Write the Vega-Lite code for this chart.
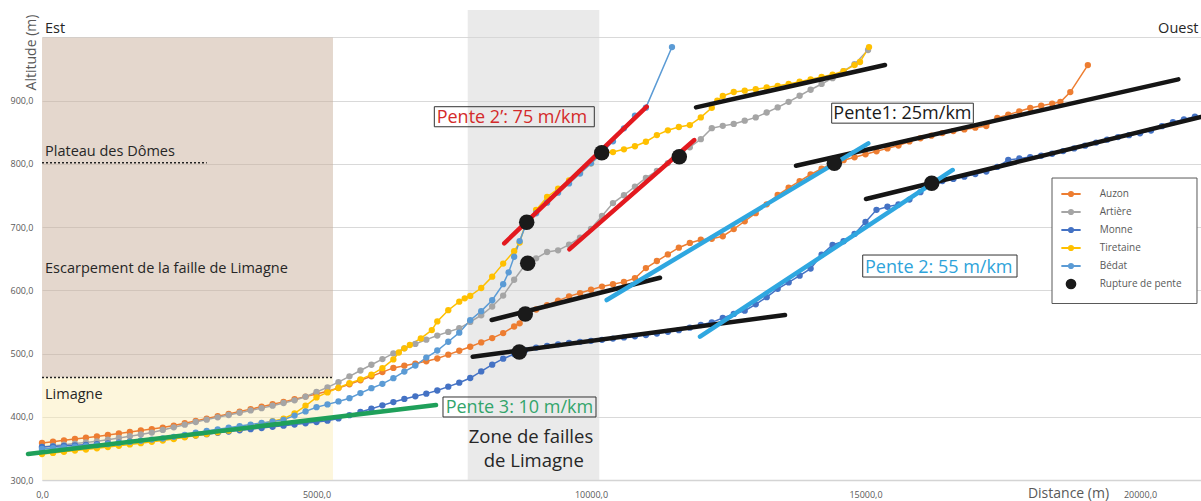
{
"$schema":"https://vega.github.io/schema/vega-lite/v6.json",
"width":1159,"height":470,"autosize":"none",
"padding":{"left":42,"top":10,"right":0,"bottom":21},
"background":"white",
"config":{"view":{"stroke":null},"font":"Open Sans"},
"resolve":{"scale":{"fill":"independent","stroke":"independent"}},
"datasets":{
"zones":[{"zone":"escarpement","x":0,"x2":5300,"y":462,"y2":1000},{"zone":"limagne","x":0,"x2":5300,"y":300,"y2":462},{"zone":"failles","x":7754,"x2":10151,"y":300,"y2":1043.5}],
"pointilles":[{"nom":"Plateau des Dômes","x":0,"x2":3000,"y":802},{"nom":"Limagne","x":0,"x2":5300,"y":462}],
"rivieres":[
{"serie":"Auzon","x":0,"y":358.5},{"serie":"Auzon","x":200,"y":360.6},{"serie":"Auzon","x":400,"y":362.7},{"serie":"Auzon","x":600,"y":364.8},{"serie":"Auzon","x":800,"y":366.9},{"serie":"Auzon","x":1000,"y":369.0},{"serie":"Auzon","x":1200,"y":371.3},{"serie":"Auzon","x":1400,"y":373.6},{"serie":"Auzon","x":1600,"y":375.9},{"serie":"Auzon","x":1800,"y":378.3},{"serie":"Auzon","x":2000,"y":380.6},{"serie":"Auzon","x":2200,"y":382.9},{"serie":"Auzon","x":2400,"y":386.1},{"serie":"Auzon","x":2600,"y":389.8},{"serie":"Auzon","x":2800,"y":393.5},{"serie":"Auzon","x":3000,"y":397.2},{"serie":"Auzon","x":3200,"y":400.8},{"serie":"Auzon","x":3400,"y":404.5},{"serie":"Auzon","x":3600,"y":408.3},{"serie":"Auzon","x":3800,"y":412.1},{"serie":"Auzon","x":4000,"y":416.0},{"serie":"Auzon","x":4200,"y":419.8},{"serie":"Auzon","x":4400,"y":423.6},{"serie":"Auzon","x":4600,"y":427.8},{"serie":"Auzon","x":4800,"y":431.9},{"serie":"Auzon","x":5000,"y":436.1},{"serie":"Auzon","x":5200,"y":440.3},{"serie":"Auzon","x":5400,"y":445.4},{"serie":"Auzon","x":5600,"y":451.5},{"serie":"Auzon","x":5800,"y":457.6},{"serie":"Auzon","x":6000,"y":464.0},{"serie":"Auzon","x":6200,"y":470.7},{"serie":"Auzon","x":6400,"y":477.3},{"serie":"Auzon","x":6600,"y":480.8},{"serie":"Auzon","x":6800,"y":484.2},{"serie":"Auzon","x":7000,"y":487.7},{"serie":"Auzon","x":7200,"y":492.2},{"serie":"Auzon","x":7400,"y":498.3},{"serie":"Auzon","x":7600,"y":504.5},{"serie":"Auzon","x":7800,"y":510.8},{"serie":"Auzon","x":8000,"y":517.7},{"serie":"Auzon","x":8200,"y":524.5},{"serie":"Auzon","x":8400,"y":532.4},{"serie":"Auzon","x":8600,"y":542.8},{"serie":"Auzon","x":8700,"y":547.8},{"serie":"Auzon","x":8800,"y":562.6},{"serie":"Auzon","x":9000,"y":569.7},{"serie":"Auzon","x":9200,"y":576.7},{"serie":"Auzon","x":9400,"y":583.8},{"serie":"Auzon","x":9600,"y":590.5},{"serie":"Auzon","x":9800,"y":595.7},{"serie":"Auzon","x":10000,"y":601.0},{"serie":"Auzon","x":10200,"y":606.0},{"serie":"Auzon","x":10400,"y":609.7},{"serie":"Auzon","x":10600,"y":613.4},{"serie":"Auzon","x":10800,"y":619.2},{"serie":"Auzon","x":11000,"y":635.3},{"serie":"Auzon","x":11200,"y":646.4},{"serie":"Auzon","x":11400,"y":656.9},{"serie":"Auzon","x":11600,"y":667.5},{"serie":"Auzon","x":11800,"y":675.0},{"serie":"Auzon","x":12000,"y":680.1},{"serie":"Auzon","x":12200,"y":681.6},{"serie":"Auzon","x":12400,"y":685.6},{"serie":"Auzon","x":12600,"y":696.9},{"serie":"Auzon","x":12800,"y":709.3},{"serie":"Auzon","x":13000,"y":722.1},{"serie":"Auzon","x":13200,"y":736.1},{"serie":"Auzon","x":13400,"y":750.8},{"serie":"Auzon","x":13600,"y":762.3},{"serie":"Auzon","x":13800,"y":772.8},{"serie":"Auzon","x":14000,"y":783.3},{"serie":"Auzon","x":14200,"y":792.4},{"serie":"Auzon","x":14400,"y":801.1},{"serie":"Auzon","x":14600,"y":805.9},{"serie":"Auzon","x":14800,"y":810.5},{"serie":"Auzon","x":15000,"y":815.2},{"serie":"Auzon","x":15200,"y":819.9},{"serie":"Auzon","x":15400,"y":824.6},{"serie":"Auzon","x":15600,"y":829.2},{"serie":"Auzon","x":15800,"y":835.6},{"serie":"Auzon","x":16000,"y":840.6},{"serie":"Auzon","x":16200,"y":844.7},{"serie":"Auzon","x":16400,"y":848.8},{"serie":"Auzon","x":16600,"y":852.0},{"serie":"Auzon","x":16800,"y":854.6},{"serie":"Auzon","x":17000,"y":857.3},{"serie":"Auzon","x":17200,"y":859.9},{"serie":"Auzon","x":17400,"y":872.8},{"serie":"Auzon","x":17600,"y":878.0},{"serie":"Auzon","x":17800,"y":883.2},{"serie":"Auzon","x":18000,"y":888.5},{"serie":"Auzon","x":18200,"y":892.0},{"serie":"Auzon","x":18400,"y":895.4},{"serie":"Auzon","x":18550,"y":898.0},{"serie":"Auzon","x":18730,"y":913.7},{"serie":"Auzon","x":19050,"y":956.4},
{"serie":"Artière","x":0,"y":352.2},{"serie":"Artière","x":200,"y":354.0},{"serie":"Artière","x":400,"y":355.8},{"serie":"Artière","x":600,"y":357.6},{"serie":"Artière","x":800,"y":359.4},{"serie":"Artière","x":1000,"y":361.2},{"serie":"Artière","x":1200,"y":363.7},{"serie":"Artière","x":1400,"y":366.5},{"serie":"Artière","x":1600,"y":369.2},{"serie":"Artière","x":1800,"y":372.0},{"serie":"Artière","x":2000,"y":375.0},{"serie":"Artière","x":2200,"y":379.2},{"serie":"Artière","x":2400,"y":383.3},{"serie":"Artière","x":2600,"y":387.5},{"serie":"Artière","x":2800,"y":391.7},{"serie":"Artière","x":3000,"y":395.5},{"serie":"Artière","x":3200,"y":399.2},{"serie":"Artière","x":3400,"y":402.8},{"serie":"Artière","x":3600,"y":406.4},{"serie":"Artière","x":3800,"y":410.1},{"serie":"Artière","x":4000,"y":413.7},{"serie":"Artière","x":4200,"y":417.6},{"serie":"Artière","x":4400,"y":421.8},{"serie":"Artière","x":4600,"y":426.0},{"serie":"Artière","x":4800,"y":431.8},{"serie":"Artière","x":5000,"y":439.2},{"serie":"Artière","x":5200,"y":446.6},{"serie":"Artière","x":5400,"y":454.8},{"serie":"Artière","x":5600,"y":464.0},{"serie":"Artière","x":5800,"y":473.2},{"serie":"Artière","x":6000,"y":482.3},{"serie":"Artière","x":6200,"y":491.3},{"serie":"Artière","x":6400,"y":500.2},{"serie":"Artière","x":6600,"y":508.3},{"serie":"Artière","x":6800,"y":515.2},{"serie":"Artière","x":7000,"y":522.0},{"serie":"Artière","x":7200,"y":528.5},{"serie":"Artière","x":7400,"y":534.3},{"serie":"Artière","x":7600,"y":540.0},{"serie":"Artière","x":7800,"y":550.1},{"serie":"Artière","x":8000,"y":560.6},{"serie":"Artière","x":8200,"y":574.5},{"serie":"Artière","x":8400,"y":591.7},{"serie":"Artière","x":8600,"y":616.8},{"serie":"Artière","x":8800,"y":640.4},{"serie":"Artière","x":9000,"y":650.7},{"serie":"Artière","x":9200,"y":660.7},{"serie":"Artière","x":9400,"y":663.3},{"serie":"Artière","x":9600,"y":672.2},{"serie":"Artière","x":9800,"y":683.3},{"serie":"Artière","x":10000,"y":697.3},{"serie":"Artière","x":10200,"y":717.7},{"serie":"Artière","x":10400,"y":738.1},{"serie":"Artière","x":10600,"y":750.5},{"serie":"Artière","x":10800,"y":764.0},{"serie":"Artière","x":11000,"y":777.9},{"serie":"Artière","x":11200,"y":788.9},{"serie":"Artière","x":11400,"y":801.4},{"serie":"Artière","x":11600,"y":815.8},{"serie":"Artière","x":11800,"y":826.4},{"serie":"Artière","x":12000,"y":839.1},{"serie":"Artière","x":12200,"y":856.5},{"serie":"Artière","x":12400,"y":860.2},{"serie":"Artière","x":12600,"y":863.3},{"serie":"Artière","x":12800,"y":868.4},{"serie":"Artière","x":13000,"y":873.6},{"serie":"Artière","x":13200,"y":881.3},{"serie":"Artière","x":13400,"y":889.4},{"serie":"Artière","x":13600,"y":898.3},{"serie":"Artière","x":13800,"y":907.8},{"serie":"Artière","x":14000,"y":917.4},{"serie":"Artière","x":14200,"y":926.5},{"serie":"Artière","x":14400,"y":935.6},{"serie":"Artière","x":14600,"y":946.6},{"serie":"Artière","x":14800,"y":957.8},{"serie":"Artière","x":15046,"y":980.2},
{"serie":"Monne","x":0,"y":352.2},{"serie":"Monne","x":200,"y":353.1},{"serie":"Monne","x":400,"y":354.0},{"serie":"Monne","x":600,"y":354.9},{"serie":"Monne","x":800,"y":355.7},{"serie":"Monne","x":1000,"y":356.6},{"serie":"Monne","x":1200,"y":357.8},{"serie":"Monne","x":1400,"y":359.2},{"serie":"Monne","x":1600,"y":360.5},{"serie":"Monne","x":1800,"y":361.8},{"serie":"Monne","x":2000,"y":363.1},{"serie":"Monne","x":2200,"y":364.4},{"serie":"Monne","x":2400,"y":366.2},{"serie":"Monne","x":2600,"y":368.3},{"serie":"Monne","x":2800,"y":370.4},{"serie":"Monne","x":3000,"y":372.5},{"serie":"Monne","x":3200,"y":374.6},{"serie":"Monne","x":3400,"y":376.7},{"serie":"Monne","x":3600,"y":378.6},{"serie":"Monne","x":3800,"y":380.4},{"serie":"Monne","x":4000,"y":382.2},{"serie":"Monne","x":4200,"y":384.1},{"serie":"Monne","x":4400,"y":385.9},{"serie":"Monne","x":4600,"y":387.7},{"serie":"Monne","x":4800,"y":389.7},{"serie":"Monne","x":5000,"y":391.7},{"serie":"Monne","x":5200,"y":393.8},{"serie":"Monne","x":5400,"y":397.4},{"serie":"Monne","x":5600,"y":402.5},{"serie":"Monne","x":5800,"y":407.6},{"serie":"Monne","x":6000,"y":412.8},{"serie":"Monne","x":6200,"y":418.1},{"serie":"Monne","x":6400,"y":423.3},{"serie":"Monne","x":6600,"y":428.2},{"serie":"Monne","x":6800,"y":432.4},{"serie":"Monne","x":7000,"y":436.6},{"serie":"Monne","x":7200,"y":441.6},{"serie":"Monne","x":7400,"y":447.7},{"serie":"Monne","x":7600,"y":453.9},{"serie":"Monne","x":7800,"y":461.3},{"serie":"Monne","x":8000,"y":471.8},{"serie":"Monne","x":8200,"y":482.4},{"serie":"Monne","x":8400,"y":491.9},{"serie":"Monne","x":8600,"y":499.2},{"serie":"Monne","x":8800,"y":505.2},{"serie":"Monne","x":9000,"y":509.5},{"serie":"Monne","x":9200,"y":512.1},{"serie":"Monne","x":9400,"y":514.6},{"serie":"Monne","x":9600,"y":517.0},{"serie":"Monne","x":9800,"y":518.6},{"serie":"Monne","x":10000,"y":520.2},{"serie":"Monne","x":10200,"y":521.8},{"serie":"Monne","x":10400,"y":523.7},{"serie":"Monne","x":10600,"y":525.5},{"serie":"Monne","x":10800,"y":527.4},{"serie":"Monne","x":11000,"y":529.2},{"serie":"Monne","x":11200,"y":531.8},{"serie":"Monne","x":11400,"y":534.4},{"serie":"Monne","x":11600,"y":537.0},{"serie":"Monne","x":11800,"y":541.0},{"serie":"Monne","x":12000,"y":545.2},{"serie":"Monne","x":12200,"y":549.4},{"serie":"Monne","x":12400,"y":556.3},{"serie":"Monne","x":12600,"y":562.7},{"serie":"Monne","x":12800,"y":567.8},{"serie":"Monne","x":13000,"y":577.9},{"serie":"Monne","x":13200,"y":589.2},{"serie":"Monne","x":13400,"y":602.4},{"serie":"Monne","x":13600,"y":612.6},{"serie":"Monne","x":13800,"y":623.2},{"serie":"Monne","x":14000,"y":634.4},{"serie":"Monne","x":14200,"y":656.3},{"serie":"Monne","x":14400,"y":671.7},{"serie":"Monne","x":14600,"y":677.7},{"serie":"Monne","x":14800,"y":689.3},{"serie":"Monne","x":15000,"y":708.1},{"serie":"Monne","x":15200,"y":727.4},{"serie":"Monne","x":15400,"y":732.3},{"serie":"Monne","x":15600,"y":736.0},{"serie":"Monne","x":15800,"y":743.6},{"serie":"Monne","x":16000,"y":755.3},{"serie":"Monne","x":16200,"y":769.0},{"serie":"Monne","x":16400,"y":773.0},{"serie":"Monne","x":16600,"y":776.3},{"serie":"Monne","x":16800,"y":779.8},{"serie":"Monne","x":17000,"y":783.9},{"serie":"Monne","x":17200,"y":787.9},{"serie":"Monne","x":17400,"y":795.2},{"serie":"Monne","x":17600,"y":806.4},{"serie":"Monne","x":17800,"y":808.6},{"serie":"Monne","x":18000,"y":810.8},{"serie":"Monne","x":18200,"y":812.9},{"serie":"Monne","x":18400,"y":816.1},{"serie":"Monne","x":18600,"y":820.3},{"serie":"Monne","x":18800,"y":824.5},{"serie":"Monne","x":19000,"y":828.9},{"serie":"Monne","x":19200,"y":833.7},{"serie":"Monne","x":19400,"y":838.4},{"serie":"Monne","x":19600,"y":842.4},{"serie":"Monne","x":19800,"y":845.5},{"serie":"Monne","x":20000,"y":848.5},{"serie":"Monne","x":20200,"y":852.9},{"serie":"Monne","x":20400,"y":859.7},{"serie":"Monne","x":20600,"y":865.9},{"serie":"Monne","x":20800,"y":870.4},{"serie":"Monne","x":21000,"y":874.9},
{"serie":"Tiretaine","x":0,"y":341.1},{"serie":"Tiretaine","x":200,"y":342.9},{"serie":"Tiretaine","x":400,"y":344.7},{"serie":"Tiretaine","x":600,"y":346.5},{"serie":"Tiretaine","x":800,"y":348.3},{"serie":"Tiretaine","x":1000,"y":350.1},{"serie":"Tiretaine","x":1200,"y":352.1},{"serie":"Tiretaine","x":1400,"y":354.2},{"serie":"Tiretaine","x":1600,"y":356.3},{"serie":"Tiretaine","x":1800,"y":358.3},{"serie":"Tiretaine","x":2000,"y":360.4},{"serie":"Tiretaine","x":2200,"y":362.5},{"serie":"Tiretaine","x":2400,"y":364.9},{"serie":"Tiretaine","x":2600,"y":367.5},{"serie":"Tiretaine","x":2800,"y":370.2},{"serie":"Tiretaine","x":3000,"y":372.8},{"serie":"Tiretaine","x":3200,"y":375.4},{"serie":"Tiretaine","x":3400,"y":378.1},{"serie":"Tiretaine","x":3600,"y":381.4},{"serie":"Tiretaine","x":3800,"y":385.3},{"serie":"Tiretaine","x":4000,"y":389.2},{"serie":"Tiretaine","x":4200,"y":393.0},{"serie":"Tiretaine","x":4400,"y":396.9},{"serie":"Tiretaine","x":4600,"y":405.4},{"serie":"Tiretaine","x":4800,"y":417.4},{"serie":"Tiretaine","x":5000,"y":430.7},{"serie":"Tiretaine","x":5200,"y":438.6},{"serie":"Tiretaine","x":5400,"y":445.9},{"serie":"Tiretaine","x":5600,"y":453.0},{"serie":"Tiretaine","x":5800,"y":459.2},{"serie":"Tiretaine","x":6000,"y":466.6},{"serie":"Tiretaine","x":6200,"y":476.9},{"serie":"Tiretaine","x":6400,"y":490.7},{"serie":"Tiretaine","x":6500,"y":501.7},{"serie":"Tiretaine","x":6600,"y":508.3},{"serie":"Tiretaine","x":6700,"y":513.6},{"serie":"Tiretaine","x":6900,"y":524.0},{"serie":"Tiretaine","x":7100,"y":537.1},{"serie":"Tiretaine","x":7200,"y":550.9},{"serie":"Tiretaine","x":7400,"y":568.6},{"serie":"Tiretaine","x":7600,"y":582.1},{"serie":"Tiretaine","x":7700,"y":587.4},{"serie":"Tiretaine","x":7800,"y":591.2},{"serie":"Tiretaine","x":8000,"y":603.7},{"serie":"Tiretaine","x":8200,"y":621.7},{"serie":"Tiretaine","x":8400,"y":642.3},{"serie":"Tiretaine","x":8600,"y":662.0},{"serie":"Tiretaine","x":8700,"y":675.6},{"serie":"Tiretaine","x":8800,"y":703.5},{"serie":"Tiretaine","x":9000,"y":727.1},{"serie":"Tiretaine","x":9200,"y":747.7},{"serie":"Tiretaine","x":9400,"y":760.7},{"serie":"Tiretaine","x":9600,"y":773.8},{"serie":"Tiretaine","x":9800,"y":786.8},{"serie":"Tiretaine","x":10000,"y":801.0},{"serie":"Tiretaine","x":10200,"y":817.3},{"serie":"Tiretaine","x":10400,"y":818.8},{"serie":"Tiretaine","x":10600,"y":823.1},{"serie":"Tiretaine","x":10800,"y":828.0},{"serie":"Tiretaine","x":11000,"y":835.1},{"serie":"Tiretaine","x":11200,"y":845.6},{"serie":"Tiretaine","x":11400,"y":853.2},{"serie":"Tiretaine","x":11600,"y":858.4},{"serie":"Tiretaine","x":11800,"y":861.4},{"serie":"Tiretaine","x":12000,"y":873.6},{"serie":"Tiretaine","x":12200,"y":888.8},{"serie":"Tiretaine","x":12300,"y":900.1},{"serie":"Tiretaine","x":12400,"y":907.5},{"serie":"Tiretaine","x":12600,"y":913.8},{"serie":"Tiretaine","x":12800,"y":915.9},{"serie":"Tiretaine","x":13000,"y":918.3},{"serie":"Tiretaine","x":13200,"y":920.9},{"serie":"Tiretaine","x":13400,"y":923.5},{"serie":"Tiretaine","x":13600,"y":926.6},{"serie":"Tiretaine","x":13800,"y":930.2},{"serie":"Tiretaine","x":14000,"y":933.8},{"serie":"Tiretaine","x":14200,"y":937.5},{"serie":"Tiretaine","x":14400,"y":941.3},{"serie":"Tiretaine","x":14600,"y":946.9},{"serie":"Tiretaine","x":14800,"y":956.4},{"serie":"Tiretaine","x":14900,"y":961.2},{"serie":"Tiretaine","x":15064,"y":984.9},
{"serie":"Bédat","x":0,"y":349.0},{"serie":"Bédat","x":200,"y":350.2},{"serie":"Bédat","x":400,"y":351.4},{"serie":"Bédat","x":600,"y":352.6},{"serie":"Bédat","x":800,"y":353.8},{"serie":"Bédat","x":1000,"y":355.1},{"serie":"Bédat","x":1200,"y":356.7},{"serie":"Bédat","x":1400,"y":358.5},{"serie":"Bédat","x":1600,"y":360.3},{"serie":"Bédat","x":1800,"y":362.1},{"serie":"Bédat","x":2000,"y":363.9},{"serie":"Bédat","x":2200,"y":365.7},{"serie":"Bédat","x":2400,"y":368.3},{"serie":"Bédat","x":2600,"y":371.5},{"serie":"Bédat","x":2800,"y":374.7},{"serie":"Bédat","x":3000,"y":377.5},{"serie":"Bédat","x":3200,"y":380.1},{"serie":"Bédat","x":3400,"y":382.8},{"serie":"Bédat","x":3600,"y":385.3},{"serie":"Bédat","x":3800,"y":387.7},{"serie":"Bédat","x":4000,"y":390.2},{"serie":"Bédat","x":4200,"y":392.6},{"serie":"Bédat","x":4400,"y":395.2},{"serie":"Bédat","x":4600,"y":401.9},{"serie":"Bédat","x":4800,"y":408.5},{"serie":"Bédat","x":5000,"y":415.2},{"serie":"Bédat","x":5200,"y":419.6},{"serie":"Bédat","x":5400,"y":424.3},{"serie":"Bédat","x":5600,"y":429.4},{"serie":"Bédat","x":5800,"y":437.5},{"serie":"Bédat","x":6000,"y":445.2},{"serie":"Bédat","x":6200,"y":452.1},{"serie":"Bédat","x":6400,"y":461.1},{"serie":"Bédat","x":6600,"y":471.5},{"serie":"Bédat","x":6800,"y":481.1},{"serie":"Bédat","x":7000,"y":493.6},{"serie":"Bédat","x":7200,"y":504.8},{"serie":"Bédat","x":7400,"y":518.7},{"serie":"Bédat","x":7600,"y":533.1},{"serie":"Bédat","x":7800,"y":552.7},{"serie":"Bédat","x":8000,"y":567.1},{"serie":"Bédat","x":8200,"y":584.4},{"serie":"Bédat","x":8400,"y":609.8},{"serie":"Bédat","x":8500,"y":628.5},{"serie":"Bédat","x":8600,"y":653.2},{"serie":"Bédat","x":8700,"y":677.9},{"serie":"Bédat","x":8800,"y":700.5},{"serie":"Bédat","x":9000,"y":722.0},{"serie":"Bédat","x":9200,"y":738.7},{"serie":"Bédat","x":9400,"y":754.5},{"serie":"Bédat","x":9600,"y":769.2},{"serie":"Bédat","x":9800,"y":784.8},{"serie":"Bédat","x":10000,"y":800.9},{"serie":"Bédat","x":10200,"y":817.4},{"serie":"Bédat","x":10400,"y":835.8},{"serie":"Bédat","x":10600,"y":856.3},{"serie":"Bédat","x":10800,"y":876.4},{"serie":"Bédat","x":11000,"y":889.0},{"serie":"Bédat","x":11475,"y":984.9}
],
"droites":[
{"pente":"Pente 2'","droite":"R1","x":8419,"y":674.4},{"pente":"Pente 2'","droite":"R1","x":11015,"y":890.5},
{"pente":"Pente 2'","droite":"R2","x":9605,"y":664.9},{"pente":"Pente 2'","droite":"R2","x":11882,"y":837.8},
{"pente":"Pente 1","droite":"K1","x":11913,"y":889.5},{"pente":"Pente 1","droite":"K1","x":15355,"y":956.4},
{"pente":"Pente 1","droite":"K2","x":13734,"y":797.2},{"pente":"Pente 1","droite":"K2","x":20698,"y":933.8},
{"pente":"Pente 1","droite":"K3","x":15009,"y":744.5},{"pente":"Pente 1","droite":"K3","x":21111,"y":874.2},
{"pente":"Pente 1","droite":"K4","x":8191,"y":553.1},{"pente":"Pente 1","droite":"K4","x":11257,"y":620.0},
{"pente":"Pente 1","droite":"K5","x":7845,"y":495.0},{"pente":"Pente 1","droite":"K5","x":13534,"y":561.0},
{"pente":"Pente 2","droite":"B1","x":10286,"y":584.7},{"pente":"Pente 2","droite":"B1","x":15051,"y":832.6},
{"pente":"Pente 2","droite":"B2","x":11986,"y":526.7},{"pente":"Pente 2","droite":"B2","x":16588,"y":790.4},
{"pente":"Pente 3","droite":"G1","x":-255,"y":341.1},{"pente":"Pente 3","droite":"G1","x":7177,"y":418.6}
],
"ruptures":[
{"serie":"Rupture de pente","x":8829,"y":707.6},{"serie":"Rupture de pente","x":8847,"y":642.8},{"serie":"Rupture de pente","x":8803,"y":562.6},{"serie":"Rupture de pente","x":8694,"y":502.5},{"serie":"Rupture de pente","x":10195,"y":817.7},{"serie":"Rupture de pente","x":11608,"y":811.4},{"serie":"Rupture de pente","x":14432,"y":801.0},{"serie":"Rupture de pente","x":16206,"y":769.3}
],
"cadres":[
{"cadre":"Pente 3","x":7304,"x2":10091,"y":399.7,"y2":431.3},{"cadre":"Pente 2'","x":7146,"x2":10060,"y":858.8,"y2":890.5},{"cadre":"Pente 1","x":14384,"x2":16964,"y":864.5,"y2":896.1},{"cadre":"Pente 2","x":14949,"x2":17760,"y":621.1,"y2":655.9}
],
"cadreLegende":[{"x":18397,"x2":21038,"y":579.2,"y2":777.7}],
"annotations":[
{"texte":"Est","x":55,"y":1007},{"texte":"Ouest","x":20330,"y":1007},{"texte":"Plateau des Dômes","x":55,"y":812.5},{"texte":"Escarpement de la faille de Limagne","x":55,"y":628},{"texte":"Limagne","x":55,"y":427.5}
],
"zoneTexte":[{"texte":"Zone de failles","x":8907,"y":358},{"texte":"de Limagne","x":8958,"y":320.1}],
"pentes":[
{"pente":"Pente 3","texte":"Pente 3: 10 m/km","x":7353,"y":406.5},{"pente":"Pente 2'","texte":"Pente 2’: 75 m/km","x":7189,"y":864.2},{"pente":"Pente 1","texte":"Pente1: 25m/km","x":14414,"y":870.5},{"pente":"Pente 2","texte":"Pente 2: 55 m/km","x":14991,"y":627.4}
]
},
"layer":[
{"data":{"name":"zones"},"mark":{"type":"rect","fillOpacity":0.5},
 "encoding":{
  "x":{"field":"x","type":"quantitative","scale":{"domain":[0,21111],"nice":false,"zero":false},
   "axis":{"values":[0,5000,10000,15000,20000],"labelExpr":"replace(format(datum.value,'.1f'),'.',',')","grid":false,"domain":true,"domainColor":"#d4d4d4","domainWidth":1.5,"ticks":false,"labelFont":"Open Sans","labelFontSize":9,"labelColor":"#595959","labelPadding":10,"labelOverlap":false,"labelFlush":false,"title":"Distance (m)","titleFont":"Open Sans","titleFontSize":14,"titleColor":"#595959","titleFontWeight":"normal","titleX":1026,"titleY":20,"titleAlign":"center","titleBaseline":"bottom"}},
  "x2":{"field":"x2"},
  "y":{"field":"y","type":"quantitative","scale":{"domain":[300,1043.5],"nice":false,"zero":false},
   "axis":{"values":[300,400,500,600,700,800,900,1000],"labelExpr":"datum.value >= 1000 ? '' : replace(format(datum.value,'.1f'),'.',',')","grid":true,"gridColor":"#d9d9d9","gridWidth":1,"domain":false,"ticks":false,"labelFont":"Open Sans","labelFontSize":9,"labelColor":"#595959","labelPadding":9,"labelOverlap":false,"title":"Altitude (m)","titleFont":"Open Sans","titleFontSize":14,"titleColor":"#595959","titleFontWeight":"normal","titleX":-11,"titleY":42,"titleAngle":270,"titleAlign":"center","titleBaseline":"middle"}},
  "y2":{"field":"y2"},
  "fill":{"field":"zone","type":"nominal","scale":{"domain":["escarpement","limagne","failles"],"range":["#c9b09b","#fbeeb9","#d6d6d6"]},"legend":null}
 }},
{"data":{"name":"pointilles"},"mark":{"type":"rule","color":"#222222","strokeWidth":1.5,"strokeDash":[2,2]},
 "encoding":{"x":{"field":"x","type":"quantitative"},"x2":{"field":"x2"},"y":{"field":"y","type":"quantitative"}}},
{"data":{"name":"rivieres"},"mark":{"type":"line","strokeWidth":1.5,"point":{"filled":true,"size":40,"opacity":1}},
 "encoding":{"x":{"field":"x","type":"quantitative"},"y":{"field":"y","type":"quantitative"},
  "color":{"field":"serie","type":"nominal","scale":{"domain":["Auzon","Artière","Monne","Tiretaine","Bédat","Rupture de pente"],"range":["#ED7D31","#A5A5A5","#4472C4","#FFC000","#5B9BD5","#1a1a1a"]},
   "legend":{"orient":"none","legendX":1018,"legendY":173,"title":null,"padding":0,"rowPadding":0,"symbolSize":372,"symbolStrokeWidth":2,"symbolType":"M-1,0H1M-0.22,0A0.22,0.22 0 1 1 0.22,0A0.22,0.22 0 1 1 -0.22,0Z","labelFont":"Open Sans","labelFontSize":10,"labelColor":"#595959","labelOffset":17.7,
    "encode":{"symbols":{"update":{"shape":{"signal":"datum.value === 'Rupture de pente' ? 'M-0.45,0A0.45,0.45 0 1 1 0.45,0A0.45,0.45 0 1 1 -0.45,0Z' : 'M-1,0H1M-0.22,0A0.22,0.22 0 1 1 0.22,0A0.22,0.22 0 1 1 -0.22,0Z'"},"fill":{"signal":"scale('color', datum.value)"},"stroke":{"signal":"scale('color', datum.value)"},"opacity":{"value":1}}}}}}}},
{"data":{"name":"droites"},"mark":{"type":"line","strokeWidth":4.5,"strokeCap":"round"},
 "encoding":{"x":{"field":"x","type":"quantitative"},"y":{"field":"y","type":"quantitative"},"detail":{"field":"droite"},
  "stroke":{"field":"pente","type":"nominal","scale":{"domain":["Pente 2'","Pente 1","Pente 2","Pente 3"],"range":["#e3191f","#151515","#2fa7e0","#1fa05a"]},"legend":null}}},
{"data":{"name":"ruptures"},"mark":{"type":"point","filled":true,"size":240,"opacity":1},
 "encoding":{"x":{"field":"x","type":"quantitative"},"y":{"field":"y","type":"quantitative"},"color":{"field":"serie","type":"nominal"}}},
{"data":{"name":"cadres"},"mark":{"type":"rect","fill":null,"stroke":"#333333","strokeWidth":1},
 "encoding":{"x":{"field":"x","type":"quantitative"},"x2":{"field":"x2"},"y":{"field":"y","type":"quantitative"},"y2":{"field":"y2"}}},
{"data":{"name":"cadreLegende"},"mark":{"type":"rect","fill":"white","stroke":"#595959","strokeWidth":1},
 "encoding":{"x":{"field":"x","type":"quantitative"},"x2":{"field":"x2"},"y":{"field":"y","type":"quantitative"},"y2":{"field":"y2"}}},
{"data":{"name":"annotations"},"mark":{"type":"text","align":"left","baseline":"alphabetic","font":"Open Sans","fontSize":14.5,"color":"#262626"},
 "encoding":{"x":{"field":"x","type":"quantitative"},"y":{"field":"y","type":"quantitative"},"text":{"field":"texte"}}},
{"data":{"name":"zoneTexte"},"mark":{"type":"text","align":"center","baseline":"alphabetic","font":"Open Sans","fontSize":18.5,"color":"#262626"},
 "encoding":{"x":{"field":"x","type":"quantitative"},"y":{"field":"y","type":"quantitative"},"text":{"field":"texte"}}},
{"data":{"name":"pentes"},"mark":{"type":"text","align":"left","baseline":"alphabetic","font":"Open Sans","fontSize":18},
 "encoding":{"x":{"field":"x","type":"quantitative"},"y":{"field":"y","type":"quantitative"},"text":{"field":"texte"},
  "fill":{"field":"pente","type":"nominal","scale":{"domain":["Pente 2'","Pente 1","Pente 2","Pente 3"],"range":["#d42a2a","#1a1a1a","#2ea3da","#33a56b"]},"legend":null}}}
]
}
